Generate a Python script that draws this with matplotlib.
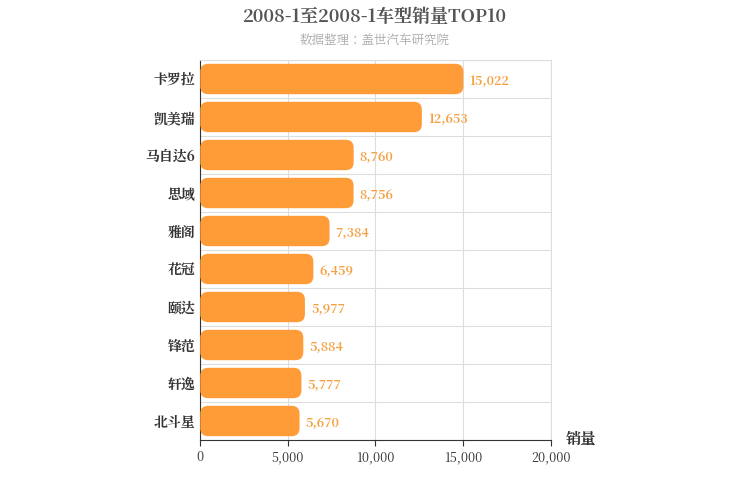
import matplotlib.pyplot as plt
from matplotlib import font_manager
from matplotlib.patches import FancyBboxPatch

# pick whatever CJK family is actually registered
cjk = [f.name for f in font_manager.fontManager.ttflist if 'CJK' in f.name]
cjk_name = 'Noto Sans CJK SC' if 'Noto Sans CJK SC' in cjk else (cjk[0] if cjk else 'DejaVu Sans')
plt.rcParams['font.family'] = 'sans-serif'
plt.rcParams['font.sans-serif'] = [cjk_name, 'DejaVu Sans']

models = ['卡罗拉', '凯美瑞', '马自达6', '思域', '雅阁', '花冠', '颐达', '锋范', '轩逸', '北斗星']
sales = [15022, 12653, 8760, 8756, 7384, 6459, 5977, 5884, 5777, 5670]
xticks = [0, 5000, 10000, 15000, 20000]

fig = plt.figure(figsize=(7.5, 5), dpi=100)
ax = fig.add_axes([0.267, 0.12, 0.467, 0.76])
n = len(models)
ax.set_xlim(0, 20000)
ax.set_ylim(n - 0.5, -0.5)

# rounded bars: correct the aspect of the rounding for data units
aspect = (n / 380) / (20000 / 350)
for i, v in enumerate(sales):
    ax.add_patch(FancyBboxPatch((0, i - 0.4), v, 0.8,
                                boxstyle='round,pad=0,rounding_size=450',
                                mutation_aspect=aspect,
                                fc='#FF9C38', ec='none', zorder=3))
    ax.text(v + 350, i + 0.05, f'{v:,}', va='center', ha='left',
            fontsize=9, color='#F5A040', fontweight='bold', zorder=4)

ax.set_yticks(range(n))
ax.set_yticklabels(models, fontsize=10, fontweight='bold', color='#333333')
ax.set_xticks(xticks)
ax.set_xticklabels([f'{t:,}' for t in xticks], fontsize=9, color='#333333')
ax.set_yticks([i + 0.5 for i in range(-1, n)], minor=True)
ax.grid(axis='x', color='#dddddd', lw=0.8, zorder=0)
ax.grid(axis='y', which='minor', color='#dddddd', lw=0.8, zorder=0)
ax.tick_params(axis='y', which='both', length=0)
ax.tick_params(axis='x', length=4, color='#333333')
for s in ['top', 'right']:
    ax.spines[s].set_color('#dddddd')
ax.spines['left'].set_color('#333333')
ax.spines['bottom'].set_color('#333333')

fig.text(0.5, 0.965, '2008-1至2008-1车型销量TOP10', ha='center', va='center',
         fontsize=13, fontweight='bold', color='#555555')
fig.text(0.5, 0.918, '数据整理：盖世汽车研究院', ha='center', va='center',
         fontsize=9, color='#aaaaaa')
fig.text(0.775, 0.122, '销量', ha='center', va='center', fontsize=11,
         fontweight='bold', color='#333333')

fig.savefig('out.png', dpi=100)
